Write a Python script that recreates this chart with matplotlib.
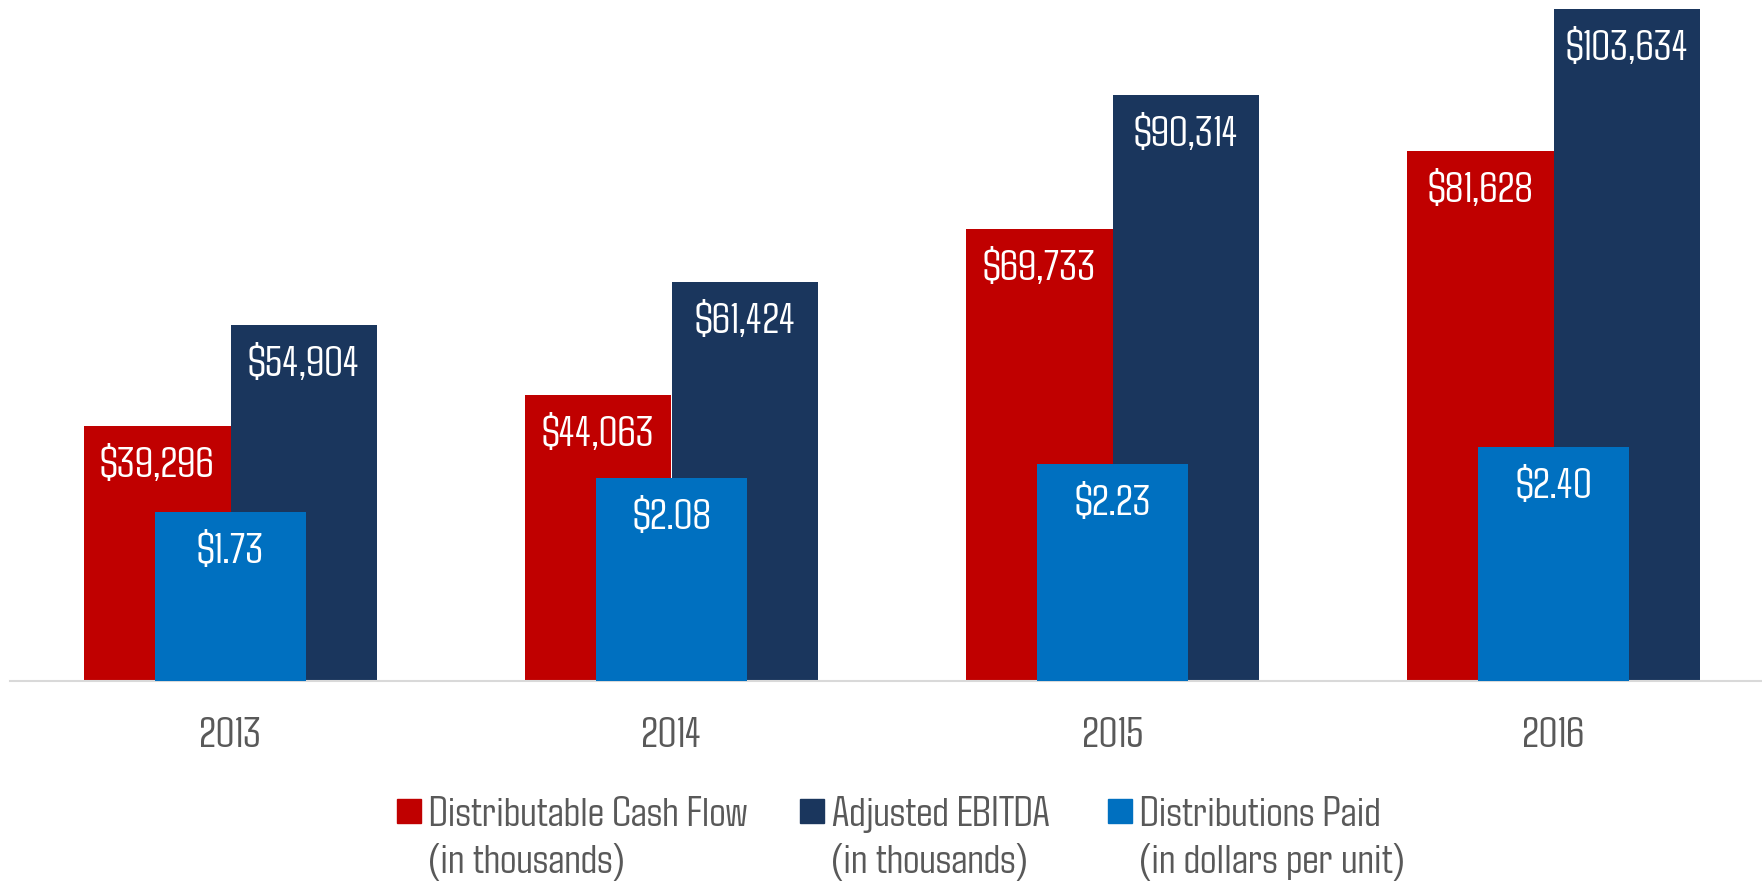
import matplotlib
matplotlib.use("Agg")
import matplotlib.pyplot as plt
from matplotlib.patches import Rectangle
import numpy as np

# ---- data ----
years = ["2013", "2014", "2015", "2016"]
dcf = [39296, 44063, 69733, 81628]          # Distributable Cash Flow (thousands)
ebitda = [54904, 61424, 90314, 103634]      # Adjusted EBITDA (thousands)
dist_paid = [1.73, 2.08, 2.23, 2.40]        # Distributions Paid ($ per unit)
legend_line1 = ["Distributable Cash Flow", "Adjusted EBITDA", "Distributions Paid"]
legend_line2 = ["(in thousands)", "(in thousands)", "(in dollars per unit)"]

# ---- styles ----
RED = "#C00000"
NAVY = "#1A365D"
BLUE = "#0070C0"
GRAY = "#595959"
FS = 31

plt.rcParams["font.family"] = ["Agdasima", "DejaVu Sans"]

W, H, DPI = 1762, 882, 100
fig = plt.figure(figsize=(W / DPI, H / DPI), dpi=DPI)
ax = fig.add_axes([10 / W, 201.5 / H, 1764 / W, 680.5 / H])
ax2 = ax.twinx()

x = np.arange(len(years))
bw = 0.333
b1 = ax.bar(x - bw / 2, dcf, width=bw, color=RED, zorder=2)
b2 = ax.bar(x + bw / 2, ebitda, width=bw, color=NAVY, zorder=2)
b3 = ax2.bar(x, dist_paid, width=0.343, color=BLUE, zorder=3)

ax.set_ylim(0, 105000)
ax2.set_ylim(0, 7.0)
ax.set_xlim(-0.5, 3.5)

off = -39 * 72 / DPI
for rects, vals, a in ((b1, dcf, ax), (b2, ebitda, ax)):
    for r, v in zip(rects, vals):
        a.annotate(f"${v:,}", (r.get_x() + r.get_width() / 2, r.get_height()),
                   xytext=(0, off), textcoords="offset points",
                   ha="center", va="center", color="white", fontsize=FS)
for r, v in zip(b3, dist_paid):
    ax2.annotate(f"${v:.2f}", (r.get_x() + r.get_width() / 2, r.get_height()),
                 xytext=(0, off), textcoords="offset points",
                 ha="center", va="center", color="white", fontsize=FS)

for a in (ax, ax2):
    for s in ("top", "right", "left", "bottom"):
        a.spines[s].set_visible(False)
    a.set_yticks([])
ax.spines["bottom"].set_visible(True)
ax.spines["bottom"].set_color("#D9D9D9")
ax.spines["bottom"].set_linewidth(1.5)
ax.set_xticks(x)
ax.set_xticklabels(years, color=GRAY, fontsize=FS)
ax.tick_params(axis="x", length=0, pad=28)

# ---- legend (manual, marker aligned with first line) ----
colors = [RED, NAVY, BLUE]
marker_x = [397, 800, 1108]
base1, base2 = 826, 873
for mx, c, l1, l2 in zip(marker_x, colors, legend_line1, legend_line2):
    fig.patches.append(Rectangle((mx / W, (H - 823) / H), 24 / W, 24 / H,
                                 transform=fig.transFigure, color=c))
    fig.text((mx + 32) / W, (H - base1) / H, l1, ha="left", va="baseline",
             color=GRAY, fontsize=FS)
    fig.text((mx + 32) / W, (H - base2) / H, l2, ha="left", va="baseline",
             color=GRAY, fontsize=FS)

fig.savefig("out.png", dpi=DPI)
